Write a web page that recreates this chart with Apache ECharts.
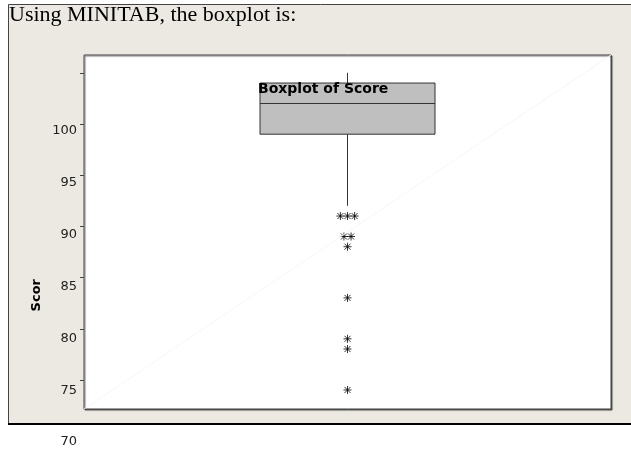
<!DOCTYPE html>
<html>
<head>
    <meta charset="utf-8">
    <title>Boxplot of Score</title>
    <script src="https://cdn.jsdelivr.net/npm/echarts@6/dist/echarts.min.js"></script>
    <style>
        body { margin: 0; background: #fff; }
    </style>
</head>
<body>
    <div id="main" style="width: 631px;height:453px;"></div>
    <script type="text/javascript">
        var myChart = echarts.init(document.getElementById('main'));

        // five number summary: low whisker, Q1, median, Q3, high whisker
        var boxStats = [92, 99, 102, 104, 105];
        // outliers (asterisks) below the lower whisker
        var outliers = [91, 91, 91, 89, 89, 88, 83, 79, 78, 74];
        var tickValues = [75, 80, 85, 90, 95, 100, 105];
        var labelValues = [70, 75, 80, 85, 90, 95, 100];

        var yMin = 72.14, yMax = 106.74;

        // side-by-side placement of repeated values, like Minitab does
        var counts = {};
        outliers.forEach(function (v) { counts[v] = (counts[v] || 0) + 1; });
        var seen = {};
        var outlierData = outliers.map(function (v) {
            var i = seen[v] || 0;
            seen[v] = i + 1;
            return [(i - (counts[v] - 1) / 2) * 0.027, v];
        });

        var font = 'DejaVu Sans';

        option = {
            backgroundColor: '#fff',
            animation: false,
            title: [{
                text: 'Using MINITAB, the boxplot is:',
                left: 9,
                top: 4,
                padding: 0,
                textStyle: { fontFamily: 'Liberation Serif', fontSize: 22, fontWeight: 'normal', color: '#000' }
            }, {
                text: 'Boxplot of Score',
                left: 258,
                top: 82,
                padding: 0,
                textStyle: { fontFamily: font, fontSize: 14, fontWeight: 'bold', color: '#000' }
            }],
            graphic: [{
                type: 'rect',
                z: -10,
                shape: { x: 8.5, y: 4.5, width: 650, height: 419 },
                style: { fill: '#ECE9E2', stroke: '#444', lineWidth: 1 }
            }, {
                type: 'line',
                z: -9,
                shape: { x1: 8, y1: 424, x2: 631, y2: 424 },
                style: { stroke: '#000', lineWidth: 2 }
            }, {
                type: 'text',
                left: 30,
                top: 279,
                rotation: Math.PI / 2,
                style: { text: 'Scor', font: 'bold 13px "DejaVu Sans"', fill: '#000' }
            }],
            grid: [{
                left: 84, right: 20, top: 55, bottom: 44,
                show: true,
                backgroundColor: '#fff',
                borderColor: '#444',
                borderWidth: 1,
                shadowColor: 'rgba(0,0,0,0.55)',
                shadowOffsetX: 1,
                shadowOffsetY: 1,
                shadowBlur: 1
            }, {
                left: 84, right: 20, top: 73, bottom: 73
            }, {
                left: 84, right: 20, top: 131, bottom: 11
            }],
            xAxis: [{
                type: 'value', gridIndex: 0, min: -1, max: 1, show: false
            }, {
                type: 'value', gridIndex: 1, min: 0, max: 1, show: false
            }, {
                type: 'value', gridIndex: 2, min: 0, max: 1, show: false
            }],
            yAxis: [{
                type: 'value', gridIndex: 0, min: yMin, max: yMax, show: false
            }, {
                type: 'value', gridIndex: 1,
                min: tickValues[0], max: tickValues[tickValues.length - 1], interval: 5,
                axisLine: { show: false },
                axisTick: { show: true, length: 4, lineStyle: { color: '#444' } },
                axisLabel: { show: false },
                splitLine: { show: false }
            }, {
                type: 'value', gridIndex: 2,
                min: labelValues[0], max: labelValues[labelValues.length - 1], interval: 5,
                axisLine: { show: false },
                axisTick: { show: false },
                axisLabel: { show: true, margin: 7, fontFamily: font, fontSize: 13, color: '#222' },
                splitLine: { show: false }
            }],
            series: [{
                type: 'line',
                silent: true,
                symbol: 'none',
                lineStyle: { color: '#f6f6f3', width: 1 },
                data: [[-1, yMin], [1, yMax]]
            }, {
                type: 'custom',
                silent: true,
                data: [[0].concat(boxStats)],
                renderItem: function (params, api) {
                    var x = api.value(0);
                    var low = api.coord([x, api.value(1)]);
                    var q1 = api.coord([x, api.value(2)]);
                    var med = api.coord([x, api.value(3)]);
                    var q3 = api.coord([x, api.value(4)]);
                    var high = api.coord([x, api.value(5)]);
                    var half = 87.5;
                    var stroke = { stroke: '#333', lineWidth: 1 };
                    return {
                        type: 'group',
                        children: [{
                            type: 'line',
                            shape: { x1: q3[0], y1: q3[1], x2: high[0], y2: high[1] },
                            style: stroke
                        }, {
                            type: 'line',
                            shape: { x1: q1[0], y1: q1[1], x2: low[0], y2: low[1] },
                            style: stroke
                        }, {
                            type: 'rect',
                            shape: { x: q3[0] - half, y: q3[1], width: half * 2, height: q1[1] - q3[1] },
                            style: { fill: '#BFBFBF', stroke: '#333', lineWidth: 1 }
                        }, {
                            type: 'line',
                            shape: { x1: med[0] - half, y1: med[1], x2: med[0] + half, y2: med[1] },
                            style: stroke
                        }]
                    };
                }
            }, {
                type: 'scatter',
                silent: true,
                symbol: 'path://M0,-4L0,4M-4,0L4,0M-3,-3L3,3M-3,3L3,-3',
                symbolSize: 8,
                itemStyle: { color: 'none', borderColor: '#000', borderWidth: 1 },
                data: outlierData
            }]
        };

        myChart.setOption(option);
    </script>
</body>
</html>
